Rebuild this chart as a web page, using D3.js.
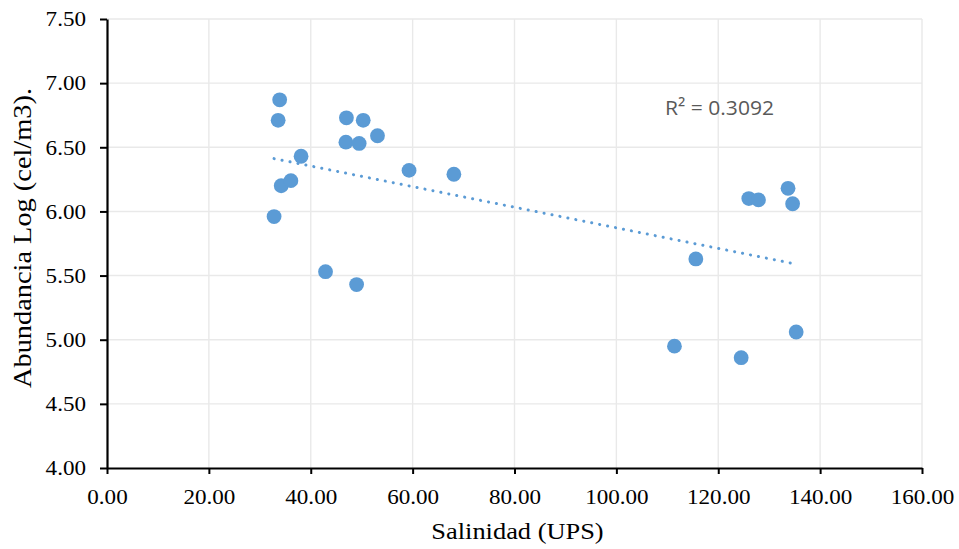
<!DOCTYPE html>
<html>
<head>
<meta charset="utf-8">
<script src="https://cdn.jsdelivr.net/npm/d3@7"></script>
<style>
  html, body { margin: 0; padding: 0; background: #fff; }
  svg { display: block; }
</style>
</head>
<body>
<svg id="chart" width="959" height="549"></svg>
<script>
// salinity (UPS) and log abundance (cel/m3)
const salinidad = [32.8, 33.9, 33.6, 34.2, 36.1, 38.1, 47.0, 46.9, 50.3, 49.5, 53.1, 59.3, 68.1,
  42.9, 49.0, 115.6, 111.4, 124.5, 126.0, 127.9, 133.7, 134.6, 135.3];
const abundancia = [5.96, 6.87, 6.71, 6.20, 6.24, 6.43, 6.73, 6.54, 6.71, 6.53, 6.59, 6.32, 6.29,
  5.53, 5.43, 5.63, 4.95, 4.86, 6.10, 6.09, 6.18, 6.06, 5.06];
const xTicks = [0, 20, 40, 60, 80, 100, 120, 140, 160];
const yTicks = [4.0, 4.5, 5.0, 5.5, 6.0, 6.5, 7.0, 7.5];
const r2Label = "R² = 0.3092";

const points = salinidad.map((s, i) => ({x: s, y: abundancia[i]}));

const svg = d3.select('#chart');
const plotL = 107, plotR = 922, plotT = 19, plotB = 468;
const serif = '"Liberation Serif", "Times New Roman", serif';

const x = d3.scaleLinear().domain([0, 160]).range([plotL, plotR]);
const y = d3.scaleLinear().domain([4, 7.5]).range([plotB, plotT]);

// gridlines
const grid = svg.append('g');
grid.selectAll('line.gx')
  .data(xTicks.slice(1))
  .enter()
  .append('line')
  .attr('x1', d => x(d)).attr('x2', d => x(d))
  .attr('y1', plotT).attr('y2', plotB)
  .attr('stroke', '#e9e9e9').attr('stroke-width', 1.4);
grid.selectAll('line.gy')
  .data(yTicks.slice(1))
  .enter()
  .append('line')
  .attr('x1', plotL).attr('x2', plotR)
  .attr('y1', d => y(d)).attr('y2', d => y(d))
  .attr('stroke', '#e9e9e9').attr('stroke-width', 1.4);

// axes
const yAxis = svg.append('g')
  .attr('transform', `translate(${plotL},0)`)
  .call(d3.axisLeft(y).tickValues(yTicks).tickFormat(d3.format('.2f')).tickSize(7).tickSizeOuter(0).tickPadding(14));
const xAxis = svg.append('g')
  .attr('transform', `translate(0,${plotB})`)
  .call(d3.axisBottom(x).tickValues(xTicks).tickFormat(d3.format('.2f')).tickSize(6).tickSizeOuter(0).tickPadding(15));

[yAxis, xAxis].forEach(g => {
  g.select('.domain').attr('stroke', '#000').attr('stroke-width', 2.2);
  g.selectAll('.tick line').attr('stroke', '#000').attr('stroke-width', 2);
  g.selectAll('.tick text')
    .attr('fill', '#000')
    .style('font-family', serif)
    .style('font-size', '21px');
});
yAxis.selectAll('.tick text')
  .attr('x', 0)
  .attr('transform', 'translate(-21,0) scale(1.1,1)');
xAxis.selectAll('.tick text')
  .attr('y', 0)
  .attr('transform', 'translate(0,21) scale(1.1,1)');

// trendline (least squares)
const mx = d3.mean(salinidad), my = d3.mean(abundancia);
const slope = d3.sum(points, p => (p.x - mx) * (p.y - my)) / d3.sum(points, p => (p.x - mx) ** 2);
const icpt = my - slope * mx;
const [xmin, xmax] = d3.extent(salinidad);
const line = d3.line().x(d => x(d)).y(d => y(icpt + slope * d));
svg.append('path')
  .attr('d', line([xmin, xmax]))
  .attr('fill', 'none')
  .attr('stroke', '#5b9bd5')
  .attr('stroke-width', 3)
  .attr('stroke-linecap', 'round')
  .attr('stroke-dasharray', '0.1 8');

// points
svg.append('g')
  .selectAll('circle')
  .data(points)
  .enter()
  .append('circle')
  .attr('cx', d => x(d.x))
  .attr('cy', d => y(d.y))
  .attr('r', 7.4)
  .attr('fill', '#5b9bd5');

// R² label
svg.append('text')
  .attr('x', 665).attr('y', 115)
  .attr('textLength', 109).attr('lengthAdjust', 'spacingAndGlyphs')
  .style('font-family', '"Open Sans", "Liberation Sans", sans-serif')
  .style('font-size', '20px')
  .attr('fill', '#595959')
  .text(r2Label);

// axis titles
svg.append('text')
  .attr('transform', `translate(${(plotL + plotR) / 2 + 3},539) scale(1.1,1)`)
  .attr('text-anchor', 'middle')
  .style('font-family', serif).style('font-size', '24px')
  .attr('fill', '#000')
  .text('Salinidad (UPS)');

svg.append('text')
  .attr('transform', 'translate(31,238) rotate(-90)')
  .attr('text-anchor', 'middle')
  .attr('textLength', 300).attr('lengthAdjust', 'spacingAndGlyphs')
  .style('font-family', serif).style('font-size', '25px')
  .attr('fill', '#000')
  .text('Abundancia Log (cel/m3).');
</script>
</body>
</html>
